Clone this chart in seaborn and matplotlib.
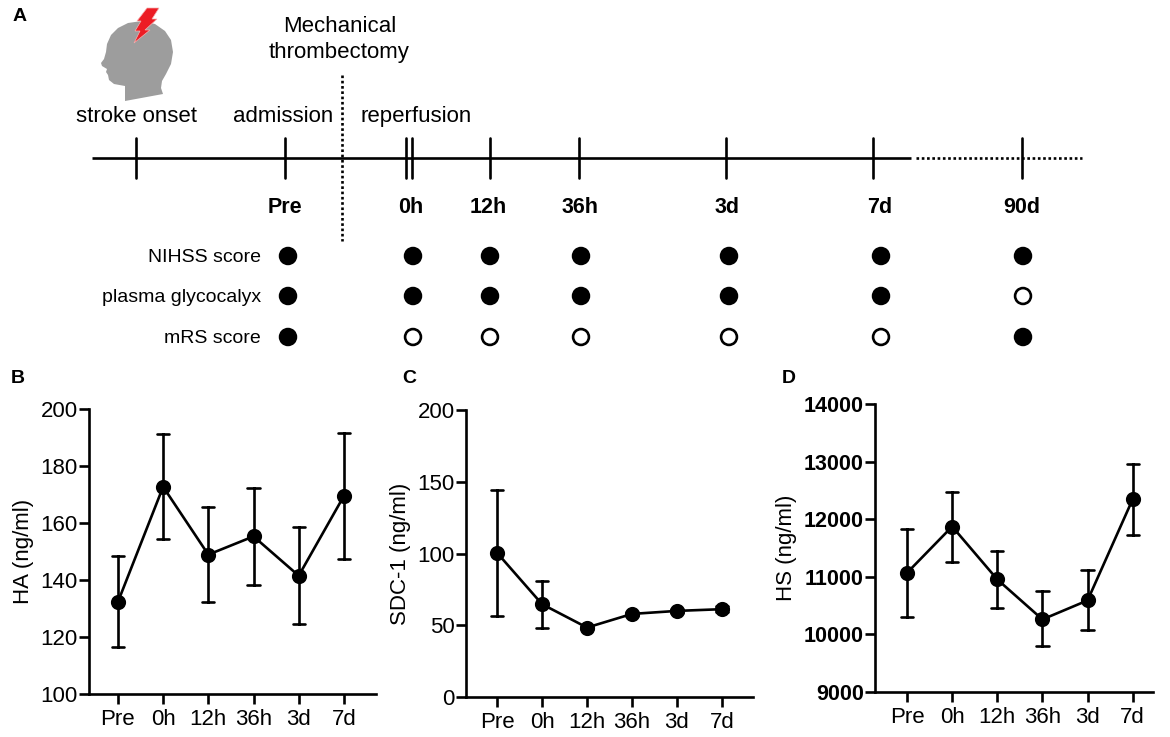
import numpy as np
import pandas as pd
import seaborn as sns
import matplotlib.pyplot as plt
from matplotlib.patches import Polygon

sns.set_style("ticks")
plt.rcParams['font.family'] = ['Liberation Sans', 'DejaVu Sans']
plt.rcParams.update({"text.color": "black", "axes.labelcolor": "black",
                     "xtick.color": "black", "ytick.color": "black",
                     "axes.edgecolor": "black"})

W, H = 1170, 737

# time points of the blood samples (panels B-D)
times = ["Pre", "0h", "12h", "36h", "3d", "7d"]

ha_mid = [132.3, 172.7, 148.9, 155.3, 141.5, 169.5]
ha_lo = [116.4, 154.4, 132.3, 138.4, 124.6, 147.5]
ha_hi = [148.3, 191.3, 165.7, 172.4, 158.5, 191.6]

sdc_mid = [100.5, 64.7, 48.4, 57.9, 60.0, 61.2]
sdc_lo = [56.5, 48.4, 47.6, 56.6, 58.6, 59.2]
sdc_hi = [144.4, 80.7, 49.2, 59.2, 61.4, 63.2]

hs_mid = [11069, 11873, 10954, 10260, 10590, 12347]
hs_lo = [10294, 11255, 10450, 9792, 10069, 11722]
hs_hi = [11833, 12475, 11451, 10752, 11116, 12965]

# study schedule (panel A)
sched_times = ["Pre", "0h", "12h", "36h", "3d", "7d", "90d"]
sched_rows = ["NIHSS score", "plasma glycocalyx", "mRS score"]
nihss_done = [1, 1, 1, 1, 1, 1, 1]
glyco_done = [1, 1, 1, 1, 1, 1, 0]
mrs_done = [1, 0, 0, 0, 0, 0, 1]

fig = plt.figure(figsize=(11.7, 7.37), dpi=100)

# ---------- panel A (drawn in pixel coords) ----------
axA = fig.add_axes([0, 0, 1, 1])
axA.set_xlim(0, W)
axA.set_ylim(H, 0)
axA.axis("off")

line_y = 158
axA.plot([92, 911], [line_y, line_y], color="black", lw=1.9, solid_capstyle="butt")
axA.plot([916, 1082], [line_y, line_y], color="black", lw=1.9, ls=(0, (1, 1)))
tick_x = [136, 285, 406, 412, 490, 579, 726, 873, 1022]
for tx in tick_x:
    axA.plot([tx, tx], [138, 178], color="black", lw=1.9)
axA.plot([342, 342], [75, 241], color="black", lw=1.9, ls=(0, (1, 1)))

fs_a = 16
axA.text(136, 122, "stroke onset", ha="center", va="baseline", fontsize=fs_a)
axA.text(283, 122, "admission", ha="center", va="baseline", fontsize=fs_a)
axA.text(361, 122, "reperfusion", ha="left", va="baseline", fontsize=fs_a)
axA.text(340, 32, "Mechanical", ha="center", va="baseline", fontsize=fs_a)
axA.text(339, 58, "thrombectomy", ha="center", va="baseline", fontsize=fs_a)

label_x = [285, 411, 488, 580, 727, 880, 1022]
dot_x = [288, 413, 490, 581, 729, 881, 1023]
row_y = [256, 296, 337]
for lx, t in zip(label_x, sched_times):
    axA.text(lx, 213, t, ha="center", va="baseline", fontsize=15.5, fontweight="bold")
for ry, r in zip(row_y, sched_rows):
    axA.text(261, ry + 6, r, ha="right", va="baseline", fontsize=14)

sched = pd.DataFrame({
    "x": dot_x * 3,
    "y": [row_y[0]] * 7 + [row_y[1]] * 7 + [row_y[2]] * 7,
    "done": nihss_done + glyco_done + mrs_done,
})
sns.scatterplot(data=sched, x="x", y="y", hue="done", palette={1: "black", 0: "white"},
                edgecolor="black", linewidth=1.9, s=130, legend=False, ax=axA, zorder=3)
axA.set_xlabel("")
axA.set_ylabel("")

# head icon
head = [(125, 101), (125, 86), (114, 84), (109, 80), (108, 75), (106, 72), (107, 69),
        (102, 66), (101, 63), (104, 59), (106, 52), (107, 44), (111, 35), (118, 28),
        (128, 23), (142, 21), (155, 24), (165, 31), (171, 40), (173, 52), (171, 64),
        (166, 74), (162, 81), (161, 88), (163, 94)]
axA.add_patch(Polygon(head, closed=True, facecolor="#9d9d9d", edgecolor="none"))
bolt = [(147, 8), (159, 8), (152, 19), (157, 19), (145, 30), (150, 30), (134, 43),
        (140, 31), (135, 31), (141, 21), (137, 21)]
axA.add_patch(Polygon(bolt, closed=True, facecolor="#ec1c24", edgecolor="#f5b0b0", lw=0.5))

# ---------- panels B-D ----------
def add_panel(rect_px, lo, mid, hi, ylim, yticks, ylabel, xlim, bold_y=False):
    l, r, t, b = rect_px
    ax = fig.add_axes([l / W, (H - b) / H, (r - l) / W, (b - t) / H])
    df = pd.DataFrame({"time": times * 3, "val": lo + mid + hi})
    sns.pointplot(data=df, x="time", y="val", order=times, estimator="median",
                  errorbar=("pi", 100), capsize=0.27, color="black", markers="o",
                  markersize=9.5, linewidth=1.9, err_kws={"linewidth": 1.9}, ax=ax)
    ax.set_xlim(*xlim)
    ax.set_ylim(*ylim)
    ax.set_yticks(yticks)
    ax.set_xlabel("")
    ax.set_ylabel(ylabel, fontsize=16, labelpad=5)
    sns.despine(ax=ax)
    for s in ["left", "bottom"]:
        ax.spines[s].set_linewidth(1.9)
    ax.tick_params(axis="both", length=7, width=1.9, labelsize=16, color="black")
    ax.tick_params(axis="y", pad=1)
    ax.tick_params(axis="x", pad=4)
    if bold_y:
        for lb in ax.get_yticklabels():
            lb.set_fontweight("bold")
            lb.set_fontsize(15.5)
    return ax

add_panel((89, 376, 409, 694), ha_lo, ha_mid, ha_hi, (100, 200),
          [100, 120, 140, 160, 180, 200], "HA (ng/ml)", (-0.64, 5.71))
add_panel((466, 753, 410, 697), sdc_lo, sdc_mid, sdc_hi, (0, 200),
          [0, 50, 100, 150, 200], "SDC-1 (ng/ml)", (-0.69, 5.69))
add_panel((875, 1153, 404, 692), hs_lo, hs_mid, hs_hi, (9000, 14000),
          [9000, 10000, 11000, 12000, 13000, 14000], "HS (ng/ml)", (-0.71, 5.45), bold_y=True)

for letter, x, y in [("A", 13, 21), ("B", 11, 383), ("C", 402, 383), ("D", 782, 383)]:
    fig.text(x / W, 1 - y / H, letter, fontsize=14, fontweight="bold", va="baseline")

fig.savefig("out.png", dpi=100)
